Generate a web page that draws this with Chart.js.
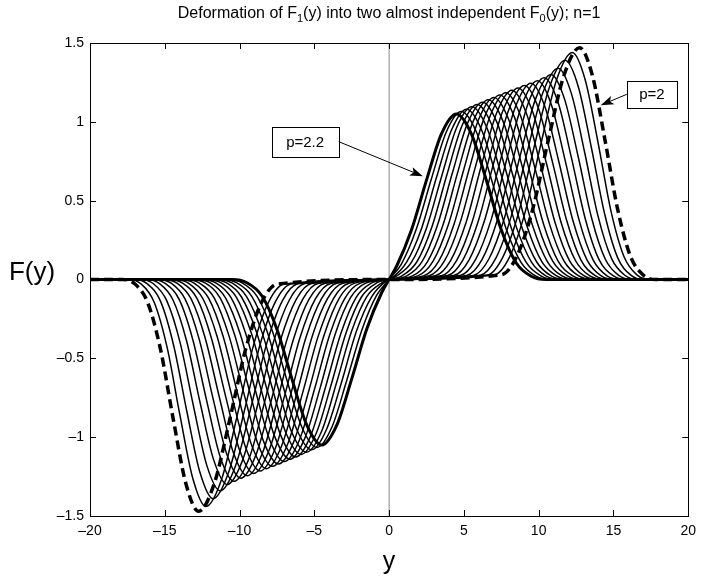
<!DOCTYPE html>
<html><head><meta charset="utf-8">
<script src="https://cdn.jsdelivr.net/npm/chart.js@4.4.1/dist/chart.umd.min.js"></script>
<style>html,body{margin:0;padding:0;background:#fff}#wrap{width:703px;height:579px;position:relative}</style>
</head><body><div id="wrap"><canvas id="c" width="703" height="579"></canvas></div>
<script>
// ---- data (positive half y>=0 of each odd curve F(y); the negative half is its mirror) ----
const pValues = [2.20,2.19,2.18,2.17,2.16,2.15,2.14,2.13,2.12,2.11,2.10,2.09,2.08,2.07,2.06,2.05,2.04,2.03,2.02,2.01,2.00];
const curve_p220 = [[0,0],[0.5,0.084],[1.5,0.315],[2.5,0.63],[3.5,0.924],[4.5,1.05],[5.5,0.924],[6.5,0.63],[7.5,0.315],[8.5,0.105],[9.5,0.021],[10.5,0],[20,0]];
const curve_p219 = [[0,0],[0.82,0.098],[1.82,0.32],[2.83,0.639],[3.83,0.937],[4.83,1.065],[5.83,0.937],[6.83,0.639],[7.83,0.32],[8.83,0.107],[9.83,0.021],[10.83,0],[20,0]];
const curve_p218 = [[0,0],[0.16,0.007],[1.16,0.108],[2.17,0.324],[3.17,0.648],[4.18,0.95],[5.18,1.08],[6.18,0.95],[7.18,0.648],[8.18,0.324],[9.17,0.108],[10.17,0.022],[11.17,0],[20,0]];
const curve_p217 = [[0,0],[0.49,0.022],[1.50,0.11],[2.51,0.329],[3.52,0.657],[4.52,0.964],[5.53,1.095],[6.53,0.964],[7.52,0.657],[8.52,0.329],[9.52,0.11],[10.51,0.022],[11.51,0],[20,0]];
const curve_p216 = [[0,0],[0.84,0.022],[1.85,0.111],[2.86,0.333],[3.87,0.666],[4.88,0.977],[5.89,1.11],[6.88,0.977],[7.88,0.666],[8.87,0.333],[9.87,0.111],[10.86,0.022],[11.85,0],[20,0]];
const curve_p215 = [[0,0],[1.19,0.023],[2.20,0.113],[3.21,0.338],[4.23,0.675],[5.24,0.99],[6.25,1.125],[7.24,0.99],[8.23,0.675],[9.22,0.338],[10.21,0.113],[11.20,0.023],[12.19,0],[20,0]];
const curve_p214 = [[0,0],[1.56,0.023],[2.57,0.114],[3.59,0.342],[4.60,0.684],[5.62,1.003],[6.63,1.14],[7.62,1.003],[8.60,0.684],[9.59,0.342],[10.58,0.114],[11.56,0.023],[12.55,0],[20,0]];
const curve_p213 = [[0,0],[1.92,0.023],[2.94,0.116],[3.96,0.347],[4.98,0.693],[5.99,1.016],[7.01,1.155],[7.99,1.016],[8.97,0.693],[9.95,0.347],[10.94,0.116],[11.92,0.023],[12.90,0],[20,0]];
const curve_p212 = [[0,0],[2.30,0.023],[3.32,0.117],[4.34,0.351],[5.36,0.702],[6.38,1.03],[7.40,1.17],[8.38,1.03],[9.35,0.702],[10.33,0.351],[11.30,0.117],[12.28,0.023],[13.26,0],[20,0]];
const curve_p211 = [[0,0],[2.69,0.024],[3.71,0.119],[4.73,0.356],[5.76,0.711],[6.78,1.043],[7.80,1.185],[8.77,1.043],[9.74,0.711],[10.71,0.356],[11.68,0.119],[12.65,0.024],[13.62,0],[20,0]];
const curve_p210 = [[0,0],[3.09,0.024],[4.11,0.12],[5.14,0.36],[6.16,0.72],[7.19,1.056],[8.21,1.2],[9.17,1.056],[10.14,0.72],[11.10,0.36],[12.06,0.12],[13.02,0.024],[13.99,0],[20,0]];
const curve_p209 = [[0,0],[3.49,0.024],[4.52,0.122],[5.55,0.365],[6.58,0.729],[7.60,1.069],[8.63,1.215],[9.58,1.069],[10.54,0.729],[11.49,0.365],[12.45,0.122],[13.40,0.024],[14.36,0],[20,0]];
const curve_p208 = [[0,0],[3.90,0.025],[4.93,0.123],[5.96,0.369],[6.99,0.738],[8.02,1.082],[9.05,1.23],[10.00,1.082],[10.94,0.738],[11.89,0.369],[12.83,0.123],[13.78,0.025],[14.73,0],[20,0]];
const curve_p207 = [[0,0],[4.32,0.025],[5.35,0.125],[6.38,0.374],[7.42,0.747],[8.45,1.096],[9.48,1.245],[10.42,1.096],[11.35,0.747],[12.29,0.374],[13.23,0.125],[14.16,0.025],[15.10,0],[20,0]];
const curve_p206 = [[0,0],[4.75,0.025],[5.78,0.126],[6.82,0.378],[7.85,0.756],[8.89,1.109],[9.92,1.26],[10.85,1.109],[11.77,0.756],[12.70,0.378],[13.63,0.126],[14.55,0.025],[15.48,0],[20,0]];
const curve_p205 = [[0,0],[5.18,0.026],[6.22,0.128],[7.26,0.384],[8.30,0.768],[9.33,1.126],[10.37,1.28],[11.29,1.126],[12.20,0.768],[13.12,0.384],[14.03,0.128],[14.95,0.026],[15.86,0],[20,0]];
const curve_p204 = [[0,0],[5.63,0.026],[6.67,0.13],[7.71,0.39],[8.75,0.78],[9.79,1.144],[10.83,1.3],[11.73,1.144],[12.64,0.78],[13.54,0.39],[14.45,0.13],[15.35,0.026],[16.25,0],[20,0]];
const curve_p203 = [[0,0],[6.09,0.027],[7.13,0.134],[8.17,0.402],[9.22,0.804],[10.26,1.179],[11.30,1.34],[12.19,1.179],[13.08,0.804],[13.97,0.402],[14.87,0.134],[15.76,0.027],[16.65,0],[20,0]];
const curve_p202 = [[0,0],[6.55,0.028],[7.59,0.139],[8.64,0.417],[9.68,0.834],[10.73,1.223],[11.77,1.39],[12.65,1.223],[13.53,0.834],[14.41,0.417],[15.28,0.139],[16.16,0.028],[17.04,0],[20,0]];
const curve_p201 = [[0,0],[7.01,0.029],[8.06,0.144],[9.11,0.432],[10.16,0.864],[11.20,1.267],[12.25,1.44],[13.11,1.267],[13.98,0.864],[14.84,0.432],[15.71,0.144],[16.57,0.029],[17.44,0],[20,0]];
const curve_p200 = [[0,0],[7.49,0.029],[8.54,0.147],[9.59,0.441],[10.64,0.882],[11.69,1.294],[12.74,1.47],[13.59,1.294],[14.44,0.882],[15.29,0.441],[16.14,0.147],[16.99,0.029],[17.84,0],[20,0]];
const curvesHalf = [curve_p220,curve_p219,curve_p218,curve_p217,curve_p216,curve_p215,curve_p214,curve_p213,curve_p212,curve_p211,curve_p210,curve_p209,curve_p208,curve_p207,curve_p206,curve_p205,curve_p204,curve_p203,curve_p202,curve_p201,curve_p200];
const axisLineX = [0, 0];
const axisLineY = [-1.5, 1.5];
const xTicks = [-20,-15,-10,-5,0,5,10,15,20];
const yTicks = [-1.5,-1,-0.5,0,0.5,1,1.5];
const titleParts = [["Deformation of F",0],["1",1],["(y) into two almost independent F",0],["0",1],["(y); n=1",0]];
const yLabel = "F(y)";
const xLabel = "y";
const annotations = [
  {text:"p=2.2", box:[-7.84,0.97,-3.39,0.78], from:[-3.39,0.875], to:[2.26,0.655]},
  {text:"p=2",   box:[15.9,1.26,19.25,1.09], from:[15.9,1.175], to:[14.15,1.105]}
];

// ---- build full odd curves ----
function fullCurve(half){
  const neg = half.slice(1).map(p=>({x:-p[0],y:-p[1]})).reverse();
  const pos = half.map(p=>({x:p[0],y:p[1]}));
  return neg.concat(pos);
}
const datasets = [];
datasets.push({label:'axis', data: axisLineX.map((v,i)=>({x:v,y:axisLineY[i]})), borderColor:'#888', borderWidth:1, pointRadius:0, order:100});
curvesHalf.forEach((half,i)=>{
  const p = pValues[i];
  const thick = (i===0), dashed = (i===curvesHalf.length-1);
  datasets.push({
    label:'p='+p, data: fullCurve(half),
    borderColor:'#000', borderWidth: thick?3:(dashed?3.5:1.5),
    borderDash: dashed?[9,5]:[],
    pointRadius:0, cubicInterpolationMode:'monotone', tension:0.4, fill:false,
    order: (thick||dashed)?1:10
  });
});

const FONT = '"Liberation Sans", Arial, Helvetica, sans-serif';
const framePlugin = {
  id:'frame',
  afterDraw(chart){
    const ctx = chart.ctx, a = chart.chartArea, xs = chart.scales.x, ys = chart.scales.y;
    ctx.save();
    ctx.strokeStyle='#000'; ctx.lineWidth=1;
    ctx.beginPath();
    xTicks.forEach(v=>{const px=Math.round(xs.getPixelForValue(v))+0.5;
      ctx.moveTo(px,a.bottom); ctx.lineTo(px,a.bottom-6);
      ctx.moveTo(px,a.top); ctx.lineTo(px,a.top+6);});
    yTicks.forEach(v=>{const py=Math.round(ys.getPixelForValue(v))+0.5;
      ctx.moveTo(a.left,py); ctx.lineTo(a.left+6,py);
      ctx.moveTo(a.right,py); ctx.lineTo(a.right-6,py);});
    ctx.stroke();
    ctx.strokeRect(Math.round(a.left)+0.5, Math.round(a.top)+0.5, Math.round(a.right-a.left), Math.round(a.bottom-a.top));
    annotations.forEach(an=>{
      const fx=xs.getPixelForValue(an.from[0]), fy=ys.getPixelForValue(an.from[1]);
      const tx=xs.getPixelForValue(an.to[0]), ty=ys.getPixelForValue(an.to[1]);
      const ang=Math.atan2(ty-fy,tx-fx), L=13, W=4.5;
      const bx=tx-L*Math.cos(ang), by=ty-L*Math.sin(ang);
      ctx.beginPath(); ctx.moveTo(fx,fy); ctx.lineTo(bx+3*Math.cos(ang),by+3*Math.sin(ang)); ctx.lineWidth=1; ctx.stroke();
      ctx.beginPath(); ctx.moveTo(tx,ty);
      ctx.lineTo(bx-W*Math.sin(ang), by+W*Math.cos(ang));
      ctx.lineTo(bx+3*Math.cos(ang), by+3*Math.sin(ang));
      ctx.lineTo(bx+W*Math.sin(ang), by-W*Math.cos(ang));
      ctx.closePath(); ctx.fillStyle='#000'; ctx.fill();
      const x0=xs.getPixelForValue(an.box[0]), y0=ys.getPixelForValue(an.box[1]);
      const x1=xs.getPixelForValue(an.box[2]), y1=ys.getPixelForValue(an.box[3]);
      ctx.fillStyle='#fff'; ctx.fillRect(x0,y0,x1-x0,y1-y0);
      ctx.strokeStyle='#000'; ctx.lineWidth=1;
      ctx.strokeRect(Math.round(x0)+0.5,Math.round(y0)+0.5,Math.round(x1-x0),Math.round(y1-y0));
      ctx.fillStyle='#000'; ctx.font='15px '+FONT; ctx.textAlign='center'; ctx.textBaseline='middle';
      ctx.fillText(an.text,(x0+x1)/2,(y0+y1)/2+1);
    });
    const big='16px '+FONT, small='11px '+FONT;
    let total=0;
    titleParts.forEach(([t,s])=>{ctx.font=s?small:big; total+=ctx.measureText(t).width;});
    let cx=(a.left+a.right)/2-total/2;
    ctx.textAlign='left'; ctx.textBaseline='alphabetic'; ctx.fillStyle='#000';
    titleParts.forEach(([t,s])=>{ctx.font=s?small:big; ctx.fillText(t,cx,s?22:18); cx+=ctx.measureText(t).width;});
    ctx.font='26px '+FONT; ctx.textAlign='center'; ctx.textBaseline='middle';
    ctx.fillText(yLabel,32,273);
    ctx.font='25px '+FONT;
    ctx.fillText(xLabel,(a.left+a.right)/2,562);
    ctx.restore();
  }
};

const fmt = v => String(v).replace('-','\u2013');
new Chart(document.getElementById('c'),{
  type:'line',
  data:{datasets},
  options:{
    responsive:false, animation:false, devicePixelRatio:1,
    layout:{padding:{top:43,right:11,left:0,bottom:0}},
    plugins:{legend:{display:false},tooltip:{enabled:false},title:{display:false}},
    scales:{
      x:{type:'linear',min:-20,max:20,
         afterBuildTicks:s=>{s.ticks=xTicks.map(v=>({value:v}));},
         afterFit:s=>{s.height=63;},
         grid:{display:false,drawTicks:false}, border:{display:false},
         ticks:{padding:7,color:'#000',font:{family:FONT,size:14},maxRotation:0,callback:fmt}},
      y:{type:'linear',min:-1.5,max:1.5,
         afterBuildTicks:s=>{s.ticks=yTicks.map(v=>({value:v}));},
         afterFit:s=>{s.width=90;},
         grid:{display:false,drawTicks:false}, border:{display:false},
         ticks:{padding:6,color:'#000',font:{family:FONT,size:14},callback:fmt}}
    }
  },
  plugins:[framePlugin]
});
</script></body></html>
